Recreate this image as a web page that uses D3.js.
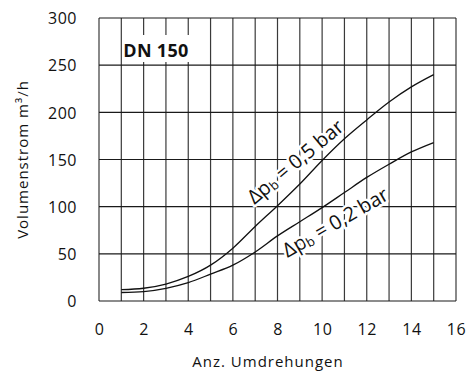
<!DOCTYPE html>
<html>
<head>
<meta charset="utf-8">
<script src="https://cdn.jsdelivr.net/npm/d3@7/dist/d3.min.js"></script>
<style>
    body { margin: 0; background: #fff; }
    svg { display: block; font-family: "Open Sans", sans-serif; }
</style>
</head>
<body>
<div id="chart"></div>
<script>

// values
var turns = [1, 2, 3, 4, 5, 6, 7, 8, 9, 10, 11, 12, 13, 14, 15]
var flow_05 = [12, 13.5, 18, 26, 38, 56, 79, 101, 124, 149, 172, 192, 211, 227, 240]
var flow_02 = [9, 10, 13.5, 19.5, 28.5, 38, 52, 69, 84, 99, 115, 131, 145, 158, 168]

var x_ticks = [0, 2, 4, 6, 8, 10, 12, 14, 16]
var y_ticks = [0, 50, 100, 150, 200, 250, 300]
var curve_labels = ['0,5 bar', '0,2 bar']

var config = {
    'width': 476,
    'height': 374,
    'padding': { 'top': 18, 'right': 20, 'bottom': 73, 'left': 99 }
}

var svg = d3.select('#chart').append('svg')
.attr('width', config.width)
.attr('height', config.height)

var xScale = d3.scaleLinear()
.domain([0, 16])
.range([config.padding.left, config.width - config.padding.right])

var yScale = d3.scaleLinear()
.domain([0, 300])
.range([config.height - config.padding.bottom, config.padding.top])

// grid
var grid = svg.append('g').classed('grid', true)

grid.selectAll('.vline')
.data(d3.range(0, 17))
.enter()
.append('line')
.attr('x1', d => xScale(d))
.attr('x2', d => xScale(d))
.attr('y1', yScale(0))
.attr('y2', yScale(300))
.style('stroke', '#3a3a3a')
.style('stroke-width', 1.2)

grid.selectAll('.hline')
.data(y_ticks)
.enter()
.append('line')
.attr('x1', xScale(0))
.attr('x2', xScale(16))
.attr('y1', d => yScale(d))
.attr('y2', d => yScale(d))
.style('stroke', '#1a1a1a')
.style('stroke-width', 1.2)

// axes
var xAxis = svg.append('g')
.attr('transform', 'translate(0,' + yScale(0) + ')')
.call(d3.axisBottom(xScale).tickValues(x_ticks).tickSize(0).tickPadding(23))

xAxis.select('.domain').remove()
xAxis.selectAll('text')
.style('font-family', '"Open Sans", sans-serif')
.style('font-size', '16px')
.style('letter-spacing', '0.5px')
.style('fill', '#111')

var yAxis = svg.append('g')
.attr('transform', 'translate(' + xScale(0) + ',0)')
.call(d3.axisLeft(yScale).tickValues(y_ticks).tickSize(0).tickPadding(22))

yAxis.select('.domain').remove()
yAxis.selectAll('text')
.attr('dy', '0.36em')
.style('font-family', '"Open Sans", sans-serif')
.style('font-size', '16px')
.style('letter-spacing', '0.5px')
.style('fill', '#111')

// axis titles
svg.append('text')
.attr('x', 268)
.attr('y', 367)
.attr('text-anchor', 'middle')
.style('font-size', '15px')
.style('letter-spacing', '1px')
.style('fill', '#111')
.text('Anz. Umdrehungen')

svg.append('text')
.attr('transform', 'translate(28,' + ((yScale(0) + yScale(300)) / 2) + ') rotate(-90)')
.attr('text-anchor', 'middle')
.style('font-size', '15px')
.style('letter-spacing', '1px')
.style('fill', '#111')
.text('Volumenstrom m³/h')

// DN label with white box behind it
svg.append('rect')
.attr('x', xScale(1) + 1)
.attr('y', 35)
.attr('width', 72)
.attr('height', 27)
.style('fill', '#fff')

svg.append('text')
.attr('x', xScale(1) + 2)
.attr('y', 57)
.style('font-size', '18px')
.style('font-weight', 'bold')
.style('letter-spacing', '0.3px')
.style('fill', '#111')
.text('DN 150')

// curve labels, white halo clears the grid
var label_pos = [
    { 'x': 9.0, 'y': 142, 'angle': -40 },
    { 'x': 10.75, 'y': 77, 'angle': -30 }
]

curve_labels.forEach(function(lbl, i) {
    var p = label_pos[i]
    var t = svg.append('text')
    .attr('transform', 'translate(' + xScale(p.x) + ',' + yScale(p.y) + ') rotate(' + p.angle + ')')
    .attr('text-anchor', 'middle')
    .style('font-size', '20px')
    .style('fill', '#111')
    .style('stroke', '#fff')
    .style('stroke-width', 5)
    .style('stroke-linejoin', 'round')
    .style('paint-order', 'stroke')

    t.append('tspan').text('\u0394p')
    t.append('tspan').attr('baseline-shift', '-18%').style('font-size', '13px').text('b')
    t.append('tspan').text(' = ' + lbl)
})

// curves
var line = d3.line()
.x((d, i) => xScale(turns[i]))
.y(d => yScale(d))
.curve(d3.curveMonotoneX)

var data_layer = svg.append('g').classed('data-layer', true)

;[flow_05, flow_02].forEach(function(series) {
    data_layer.append('path')
    .datum(series)
    .attr('d', line)
    .attr('fill', 'none')
    .style('stroke', '#111')
    .style('stroke-width', 1.3)
})

</script>
</body>
</html>
